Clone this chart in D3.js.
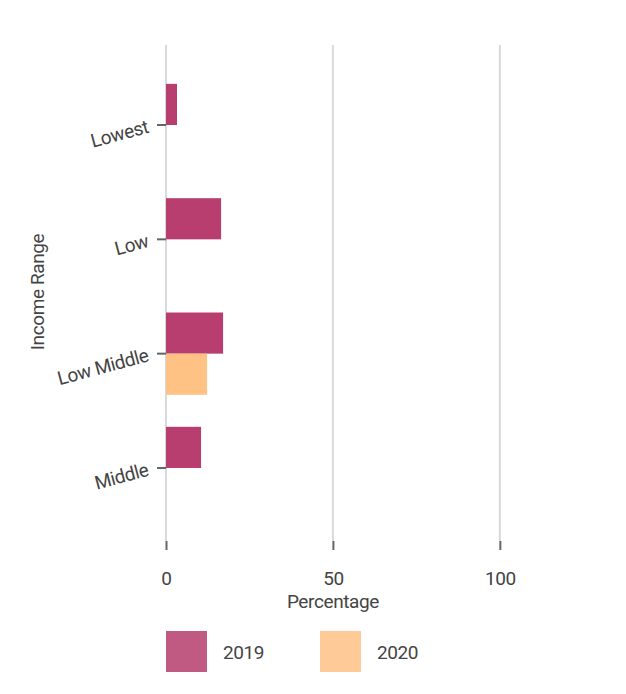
<!DOCTYPE html>
<html><head><meta charset="utf-8">
<script src="https://cdn.jsdelivr.net/npm/d3@7"></script>
<style>
html,body{margin:0;padding:0;background:#fff;}
svg text{font-family:Roboto,"Liberation Sans Narrow",sans-serif;fill:#444;letter-spacing:-0.4px;}
</style></head>
<body>
<svg id="chart" width="626" height="694"></svg>
<script>
const categories = ["Lowest", "Low", "Low Middle", "Middle"];
const seriesNames = ["2019", "2020"];
const values2019 = [3.3, 16.5, 17.1, 10.5];
const values2020 = [0, 0, 12.3, 0];
const xTicks = [0, 50, 100];
const colors = ["#b73e6f", "#ffc285"];
const legendColors = ["#c05a82", "#fdca98"];

const FS = 19;
const svg = d3.select("#chart");
const margin = {left: 166, right: 26, top: 45, bottom: 146};
const W = 626, H = 694;

const x = d3.scaleLinear().domain([0, 130]).range([margin.left, W - margin.right]);
const y = d3.scaleBand().domain(categories).range([margin.top, H - margin.bottom])
  .paddingInner(0.28).paddingOuter(0.34);
const ySub = d3.scaleBand().domain(seriesNames).range([0, y.bandwidth()]);

// gridlines
svg.append("g").selectAll("line").data(xTicks).join("line")
  .attr("x1", d => x(d)).attr("x2", d => x(d))
  .attr("y1", margin.top).attr("y2", H - margin.bottom - 7)
  .attr("stroke", "#d9d9d9").attr("stroke-width", 2);

// x axis
const xAxis = svg.append("g").attr("transform", `translate(0,${H - margin.bottom - 7})`)
  .call(d3.axisBottom(x).tickValues(xTicks).tickSize(9).tickPadding(22));
xAxis.attr("font-family", null).attr("font-size", null);
xAxis.select(".domain").remove();
xAxis.selectAll(".tick line").attr("stroke", "#666").attr("stroke-width", 2);
xAxis.selectAll(".tick text").attr("font-size", FS);

svg.append("text").attr("x", x(50)).attr("y", 608).attr("text-anchor", "middle")
  .attr("font-size", FS).text("Percentage");

// y axis
const yAxis = svg.append("g").attr("transform", `translate(${margin.left},0)`)
  .call(d3.axisLeft(y).tickSize(9));
yAxis.attr("font-family", null).attr("font-size", null);
yAxis.select(".domain").remove();
yAxis.selectAll(".tick line").attr("stroke", "#666").attr("stroke-width", 2);
yAxis.selectAll(".tick text")
  .attr("x", 0).attr("dy", "0.35em")
  .attr("transform", "translate(-18,1) rotate(-15)")
  .attr("text-anchor", "end").attr("font-size", FS);

svg.append("text").attr("transform", "translate(44,292) rotate(-90)")
  .attr("text-anchor", "middle").attr("font-size", FS).text("Income Range");

// bars
const series = [values2019, values2020];
series.forEach((vals, si) => {
  svg.append("g").selectAll("rect").data(categories.map((c, i) => ({c, v: vals[i]})).filter(d => d.v > 0))
    .join("rect")
    .attr("x", x(0))
    .attr("y", d => y(d.c) + ySub(seriesNames[si]))
    .attr("width", d => x(d.v) - x(0))
    .attr("height", ySub.bandwidth())
    .attr("fill", colors[si]);
});

// legend
const lg = svg.append("g").attr("transform", "translate(166,631)");
seriesNames.forEach((s, i) => {
  const g = lg.append("g").attr("transform", `translate(${i * 154},0)`);
  g.append("rect").attr("width", 41).attr("height", 41).attr("fill", legendColors[i]);
  g.append("text").attr("x", 57).attr("y", 28).attr("font-size", FS).text(s);
});
</script>
</body></html>
